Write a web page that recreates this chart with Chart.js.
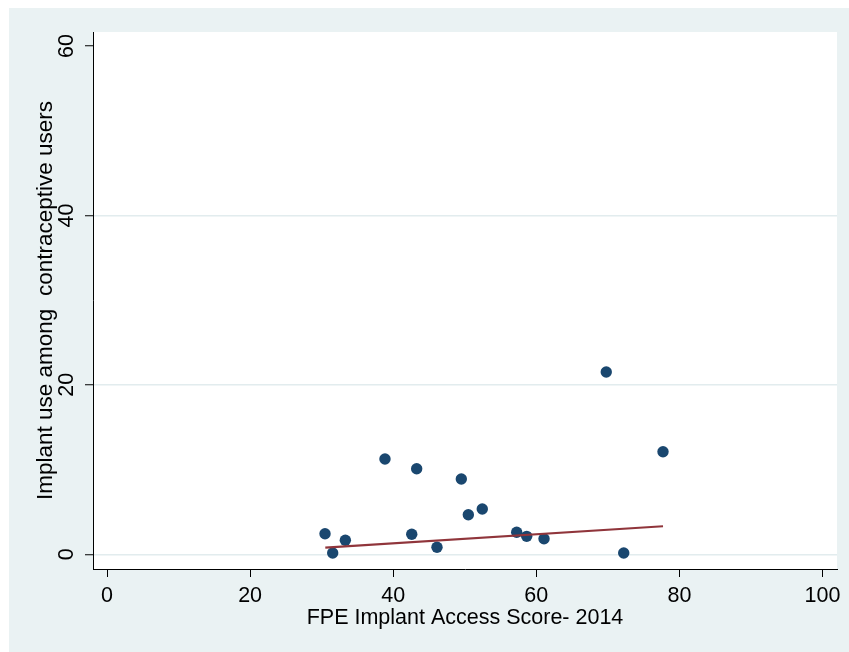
<!DOCTYPE html>
<html>
<head>
<meta charset="utf-8">
<script src="https://cdn.jsdelivr.net/npm/chart.js@4.4.1/dist/chart.umd.min.js"></script>
<style>
  html, body { margin: 0; padding: 0; background: #fff; }
  canvas { display: block; }
</style>
</head>
<body>
<canvas id="scatter" width="849" height="652"></canvas>
<script>
// one point per country: access score vs implant share
const accessScore = [30.47, 31.54, 33.31, 38.85, 42.59, 43.28, 46.12, 49.52,
                     50.50, 52.45, 57.26, 58.66, 61.08, 69.78, 72.22, 77.71];
const implantUse  = [2.43, 0.15, 1.65, 11.25, 2.36, 10.10, 0.83, 8.89,
                     4.67, 5.35, 2.60, 2.12, 1.84, 21.52, 0.15, 12.11];

// linear fit end points
const fitX = [30.51, 77.71];
const fitY = [0.78, 3.31];

const xTicks = [0, 20, 40, 60, 80, 100];
const yTicks = [0, 20, 40, 60];

const FONT = { family: '"Liberation Sans", Arial, sans-serif', size: 21.5 };
const BG = '#eaf2f3';

const backdrop = {
    id: 'backdrop',
    beforeDraw(chart) {
        const { ctx, chartArea: a, width, height } = chart;
        ctx.save();
        ctx.fillStyle = '#fff';
        ctx.fillRect(0, 0, width, height);
        ctx.fillStyle = BG;
        ctx.fillRect(9, 8, width - 9, height - 8);
        ctx.fillStyle = '#fff';
        ctx.fillRect(a.left, a.top, a.right - a.left, a.bottom - a.top);
        ctx.restore();
    }
};

// y tick labels run vertically, like the axis title
const verticalYLabels = {
    id: 'verticalYLabels',
    afterDraw(chart) {
        const { ctx, chartArea } = chart;
        const y = chart.scales.y;
        ctx.save();
        ctx.font = `${FONT.size}px ${FONT.family}`;
        ctx.fillStyle = '#000';
        ctx.textAlign = 'center';
        ctx.textBaseline = 'middle';
        yTicks.forEach(v => {
            ctx.save();
            ctx.translate(chartArea.left - 25.5, y.getPixelForValue(v));
            ctx.rotate(-Math.PI / 2);
            ctx.fillText(String(v), 0, 0);
            ctx.restore();
        });
        ctx.restore();
    }
};

new Chart(document.getElementById('scatter'), {
    type: 'scatter',
    data: {
        datasets: [{
            type: 'line',
            data: fitX.map((x, i) => ({ x, y: fitY[i] })),
            borderColor: '#90353b',
            borderWidth: 2.2,
            pointRadius: 0,
            fill: false,
            tension: 0,
            order: 0
        }, {
            data: accessScore.map((x, i) => ({ x, y: implantUse[i] })),
            backgroundColor: '#1a476f',
            borderWidth: 0,
            pointRadius: 5.7,
            order: 1
        }]
    },
    options: {
        responsive: false,
        animation: false,
        devicePixelRatio: 1,
        layout: { padding: { left: 0, right: 12, top: 32, bottom: 0 } },
        plugins: { legend: { display: false }, tooltip: { enabled: false } },
        scales: {
            x: {
                type: 'linear',
                min: -1.96,
                max: 102.03,
                afterBuildTicks: s => { s.ticks = xTicks.map(value => ({ value })); },
                afterFit: s => { s.height = 83; },
                grid: { drawOnChartArea: false, tickLength: 8, tickColor: '#000', tickWidth: 1 },
                border: { color: '#000', width: 1 },
                ticks: { font: FONT, color: '#000', padding: 6, maxRotation: 0 },
                title: {
                    display: true,
                    text: 'FPE Implant Access Score- 2014',
                    font: FONT,
                    color: '#000',
                    padding: { top: 0, bottom: 21.4 }
                }
            },
            y: {
                type: 'linear',
                min: -1.735,
                max: 61.65,
                afterBuildTicks: s => { s.ticks = yTicks.map(value => ({ value })); },
                afterFit: s => { s.width = 93; },
                grid: {
                    color: c => (c.tick && c.tick.value === 60) ? 'rgba(0,0,0,0)' : '#e2ecee',
                    lineWidth: 1.5,
                    tickLength: 8,
                    tickColor: '#000',
                    tickWidth: 1
                },
                border: { color: '#000', width: 1 },
                ticks: { display: false },
                title: {
                    display: true,
                    text: 'Implant use among  contraceptive users',
                    font: { family: FONT.family, size: 22.5 },
                    color: '#000',
                    padding: { top: 32, bottom: 0 }
                }
            }
        }
    },
    plugins: [backdrop, verticalYLabels]
});
</script>
</body>
</html>
